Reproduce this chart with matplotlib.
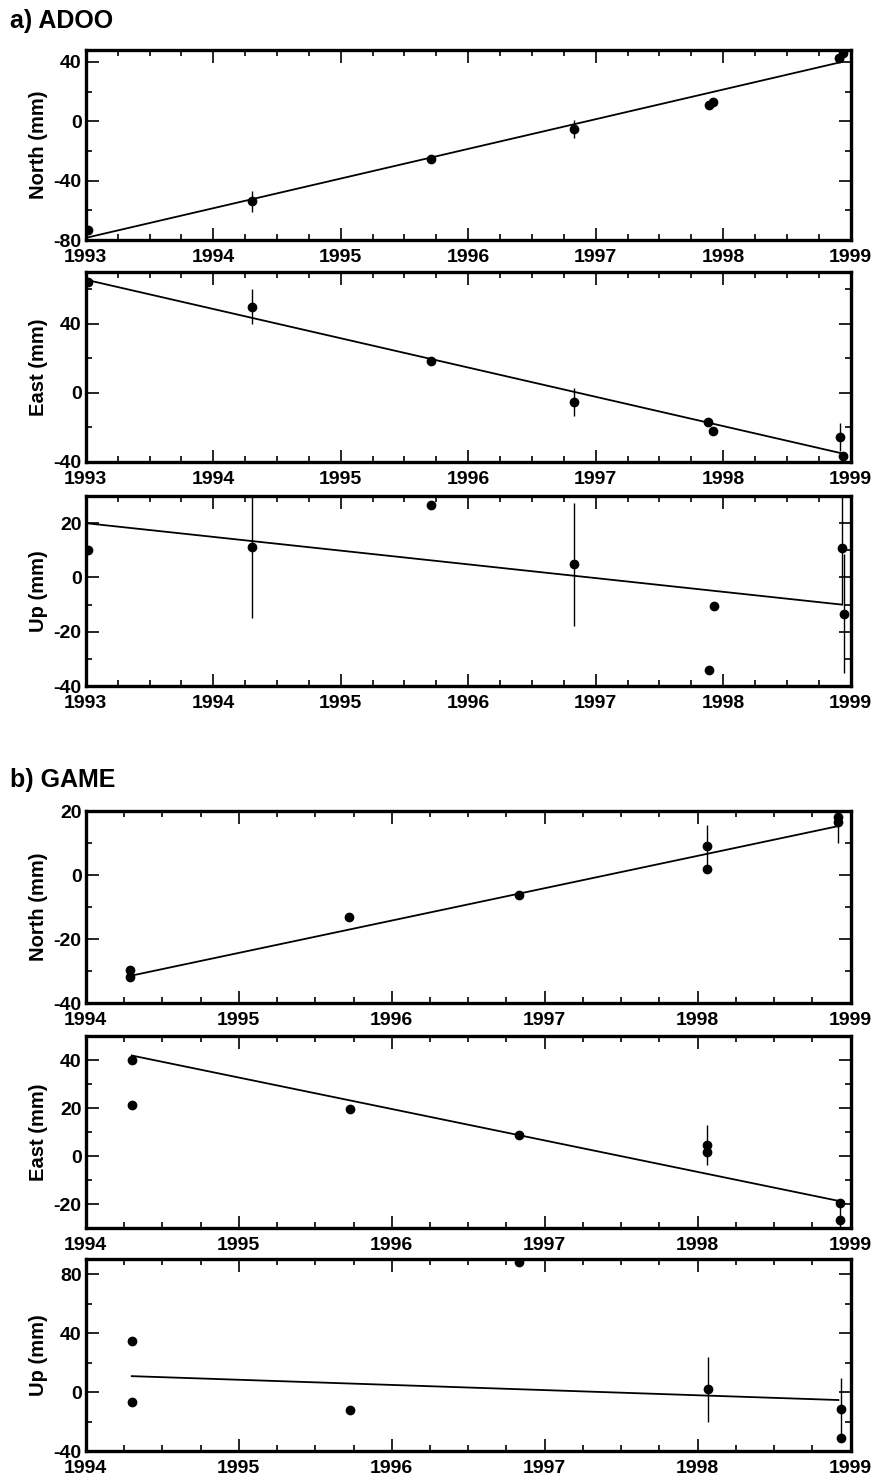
import numpy as np
import matplotlib
matplotlib.use("Agg")
import matplotlib.pyplot as plt
from matplotlib.ticker import MultipleLocator

plt.rcParams['font.family'] = ['Liberation Sans', 'DejaVu Sans']
plt.rcParams['font.weight'] = 'bold'
plt.rcParams['axes.unicode_minus'] = False

# a) ADOO
a_north_t = [1993.02, 1994.30, 1995.71, 1996.83, 1997.89, 1997.92, 1998.91, 1998.94]
a_north = [-73.3, -53.8, -25.5, -5.4, 10.8, 12.8, 43.0, 46.0]
a_north_err = [1.0, 7.0, 1.5, 6.0, 1.0, 1.0, 2.0, 5.0]
a_north_fit_t = [1993.0, 1998.93]
a_north_fit = [-78.5, 40.0]

a_east_t = [1993.02, 1994.30, 1995.71, 1996.83, 1997.88, 1997.92, 1998.92, 1998.94]
a_east = [64.3, 49.9, 18.6, -5.2, -16.8, -22.0, -25.5, -36.5]
a_east_err = [1.5, 10.0, 1.0, 8.0, 1.0, 1.0, 8.0, 1.0]
a_east_fit_t = [1993.0, 1998.93]
a_east_fit = [65.5, -35.0]

a_up_t = [1993.02, 1994.30, 1995.71, 1996.83, 1997.93, 1997.89, 1998.93, 1998.95]
a_up = [10.0, 11.2, 26.7, 4.8, -10.7, -34.0, 10.7, -13.3]
a_up_err = [1.0, 26.0, 0.0, 22.6, 1.0, 0.0, 21.0, 22.0]
a_up_fit_t = [1993.0, 1998.93]
a_up_fit = [20.0, -10.0]

# b) GAME
b_north_t = [1994.29, 1994.29, 1995.72, 1996.83, 1998.06, 1998.06, 1998.92, 1998.92]
b_north = [-29.6, -32.0, -13.2, -6.3, 9.1, 1.9, 18.2, 16.6]
b_north_err = [0.5, 0.5, 0.5, 0.5, 6.5, 1.0, 1.0, 6.5]
b_north_fit_t = [1994.29, 1998.92]
b_north_fit = [-31.5, 15.4]

b_east_t = [1994.30, 1994.30, 1995.73, 1996.83, 1998.06, 1998.06, 1998.93, 1998.93]
b_east = [40.0, 21.3, 19.6, 8.8, 4.6, 1.7, -19.5, -26.7]
b_east_err = [0.5, 0.5, 0.5, 0.5, 8.5, 1.0, 1.0, 7.0]
b_east_fit_t = [1994.30, 1998.93]
b_east_fit = [42.0, -18.8]

b_up_t = [1994.30, 1994.30, 1995.73, 1996.83, 1998.07, 1998.94, 1998.94]
b_up = [34.6, -6.8, -12.2, 88.0, 2.0, -11.5, -31.0]
b_up_err = [0.5, 0.5, 0.5, 0.5, 22.0, 21.0, 0.5]
b_up_fit_t = [1994.30, 1998.92]
b_up_fit = [10.8, -5.4]


def panel(rect, t, y, err, fit_t, fit, xlim, ylim, ymaj, ymin, label):
    ax = fig.add_axes(rect)
    ax.errorbar(t, y, yerr=err, fmt='o', color='black', ms=6, elinewidth=1.0, capsize=0)
    ax.plot(fit_t, fit, color='black', lw=1.3)
    ax.set_xlim(xlim)
    ax.set_ylim(ylim)
    ax.xaxis.set_major_locator(MultipleLocator(1))
    ax.xaxis.set_minor_locator(MultipleLocator(0.25))
    ax.yaxis.set_major_locator(MultipleLocator(ymaj))
    ax.yaxis.set_minor_locator(MultipleLocator(ymin))
    ax.tick_params(which='both', direction='in', top=True, right=True, labelsize=14, width=1.2)
    ax.tick_params(which='major', length=9)
    ax.tick_params(which='minor', length=4.5)
    ax.tick_params(axis='x', which='major', pad=6.5)
    ax.tick_params(axis='y', which='major', pad=3)
    ax.set_ylabel(label, fontsize=14.5, fontweight='bold', labelpad=4)
    for s in ax.spines.values():
        s.set_linewidth(2.4)
    return ax


fig = plt.figure(figsize=(8.76, 14.82), dpi=100)

left, width = 0.098, 0.873
h_a = 0.1282
h_b = 0.1293

fig.text(0.011, 0.981, "a) ADOO", fontsize=18, fontweight='bold')
panel([left, 0.838, width, h_a], a_north_t, a_north, a_north_err, a_north_fit_t, a_north_fit,
      (1993, 1999), (-80, 48), 40, 20, "North (mm)")
panel([left, 0.6883, width, h_a], a_east_t, a_east, a_east_err, a_east_fit_t, a_east_fit,
      (1993, 1999), (-40, 70), 40, 20, "East (mm)")
panel([left, 0.5371, width, h_a], a_up_t, a_up, a_up_err, a_up_fit_t, a_up_fit,
      (1993, 1999), (-40, 30), 20, 10, "Up (mm)")

fig.text(0.011, 0.469, "b) GAME", fontsize=18, fontweight='bold')
panel([left, 0.3232, width, h_b], b_north_t, b_north, b_north_err, b_north_fit_t, b_north_fit,
      (1994, 1999), (-40, 20), 20, 10, "North (mm)")
panel([left, 0.1714, width, h_b], b_east_t, b_east, b_east_err, b_east_fit_t, b_east_fit,
      (1994, 1999), (-30, 50), 20, 10, "East (mm)")
panel([left, 0.0209, width, h_b], b_up_t, b_up, b_up_err, b_up_fit_t, b_up_fit,
      (1994, 1999), (-40, 90), 40, 20, "Up (mm)")

fig.savefig("out.png", dpi=100)
